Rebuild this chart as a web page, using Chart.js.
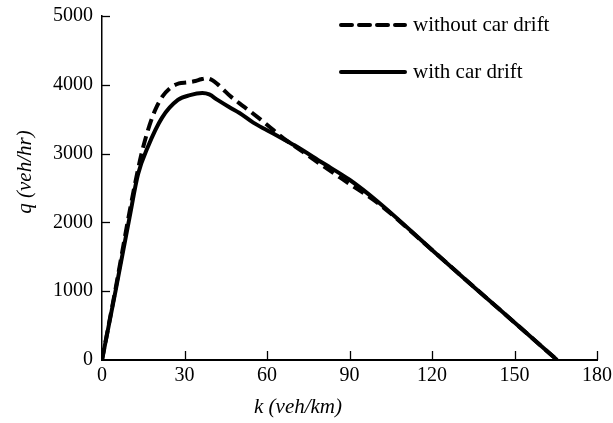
<!DOCTYPE html>
<html>
<head>
<meta charset="utf-8">
<script src="https://cdn.jsdelivr.net/npm/chart.js@4/dist/chart.umd.min.js"></script>
<style>
html,body{margin:0;padding:0;background:#fff;}
#wrap{position:relative;width:613px;height:423px;}
</style>
</head>
<body>
<div id="wrap"><canvas id="c" width="613" height="423"></canvas></div>
<script>
// ---- data ----
const seriesNames = ["without car drift", "with car drift"];
const kWithout = [0, 5, 10, 13.8, 16.4, 19.3, 22, 25, 28, 31, 34, 36, 38, 40, 42, 44, 46.5, 50, 54, 60, 66, 70, 80, 90, 100, 120, 135, 150, 165.5];
const qWithout = [0, 1050, 2150, 2900, 3300, 3630, 3830, 3960, 4020, 4035, 4055, 4080, 4095, 4070, 4010, 3935, 3840, 3730, 3610, 3420, 3220, 3110, 2830, 2560, 2290, 1600, 1070, 545, 0];
const kWith = [0, 5, 10, 13.1, 16.7, 21.8, 27.6, 32, 36.5, 39, 42, 46.5, 50, 55, 60, 66, 70, 80, 90, 100, 120, 135, 150, 165.5];
const qWith = [0, 1020, 2070, 2700, 3100, 3520, 3780, 3850, 3880, 3860, 3780, 3670, 3590, 3450, 3340, 3210, 3120, 2870, 2620, 2310, 1600, 1070, 545, 0];
const xTicks = [0, 30, 60, 90, 120, 150, 180];
const yTicks = [0, 1000, 2000, 3000, 4000, 5000];
const xTitle = "k (veh/km)";
const yTitle = "q (veh/hr)";

const toPts = (xs, ys) => xs.map((x, i) => ({x: x, y: ys[i]}));
const FONT = "'Liberation Serif', 'Times New Roman', serif";

const decor = {
  id: 'decor',
  afterDraw(chart) {
    const ctx = chart.ctx;
    const xs = chart.scales.x, ys = chart.scales.y;
    ctx.save();
    ctx.strokeStyle = '#000';
    ctx.lineWidth = 1.3;
    // inward ticks
    xTicks.forEach(v => {
      if (v === 0) return;
      const px = Math.round(xs.getPixelForValue(v)) + 0.5;
      ctx.beginPath(); ctx.moveTo(px, ys.bottom); ctx.lineTo(px, ys.bottom - 9); ctx.stroke();
    });
    yTicks.forEach(v => {
      if (v === 0) return;
      const py = Math.round(ys.getPixelForValue(v)) + 0.5;
      ctx.beginPath(); ctx.moveTo(xs.left, py); ctx.lineTo(xs.left + 8, py); ctx.stroke();
    });
    // axis titles
    ctx.fillStyle = '#000';
    ctx.font = "italic 21px " + FONT;
    ctx.textAlign = 'center'; ctx.textBaseline = 'middle';
    ctx.fillText(xTitle, 298, 407);
    ctx.translate(25, 172); ctx.rotate(-Math.PI / 2);
    ctx.fillText(yTitle, 0, 0);
    ctx.restore();
    // legend
    ctx.save();
    ctx.strokeStyle = '#000'; ctx.lineWidth = 4; ctx.lineCap = 'round';
    ctx.setLineDash([11, 7]);
    ctx.beginPath(); ctx.moveTo(341, 25); ctx.lineTo(405, 25); ctx.stroke();
    ctx.setLineDash([]);
    ctx.beginPath(); ctx.moveTo(341, 72); ctx.lineTo(405, 72); ctx.stroke();
    ctx.fillStyle = '#000';
    ctx.font = "21px " + FONT;
    ctx.textAlign = 'left'; ctx.textBaseline = 'middle';
    ctx.fillText(seriesNames[0], 413, 25);
    ctx.fillText(seriesNames[1], 413, 72);
    ctx.restore();
  }
};

new Chart(document.getElementById('c'), {
  type: 'line',
  data: {
    datasets: [
      {label: seriesNames[0], data: toPts(kWithout, qWithout), borderColor: '#000', borderWidth: 4,
       borderDash: [12, 6], pointRadius: 0, cubicInterpolationMode: 'monotone', fill: false},
      {label: seriesNames[1], data: toPts(kWith, qWith), borderColor: '#000', borderWidth: 4,
       pointRadius: 0, cubicInterpolationMode: 'monotone', fill: false}
    ]
  },
  options: {
    responsive: false,
    animation: false,
    events: [],
    layout: {padding: {left: 0, right: 16, top: 16, bottom: 0}},
    plugins: {legend: {display: false}, tooltip: {enabled: false}},
    scales: {
      x: {
        type: 'linear', min: 0, max: 180,
        afterBuildTicks: s => { s.ticks = xTicks.map(v => ({value: v})); },
        afterFit: s => { s.height = 63; s.paddingLeft = 0; s.paddingRight = 0; },
        grid: {display: true, drawOnChartArea: false, drawTicks: false, color: 'rgba(0,0,0,0)'},
        border: {display: true, color: '#000', width: 2},
        ticks: {color: '#000', font: {family: FONT, size: 20}, padding: 4, maxRotation: 0,
                callback: v => String(v)}
      },
      y: {
        type: 'linear', min: 0, max: 5000,
        afterBuildTicks: s => { s.ticks = yTicks.map(v => ({value: v})); },
        afterFit: s => { s.width = 102; s.paddingTop = 0; s.paddingBottom = 0; },
        grid: {display: true, drawOnChartArea: false, drawTicks: false, color: 'rgba(0,0,0,0)'},
        border: {display: true, color: '#000', width: 1.5},
        ticks: {color: '#000', font: {family: FONT, size: 20}, padding: 9,
                callback: v => String(v)}
      }
    }
  },
  plugins: [decor]
});
</script>
</body>
</html>
